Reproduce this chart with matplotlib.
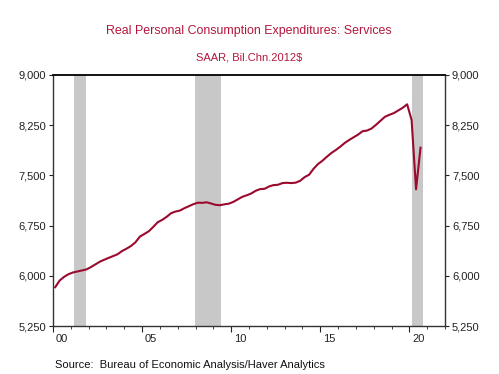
import matplotlib
matplotlib.use("Agg")
import matplotlib.pyplot as plt
import matplotlib.transforms as mtransforms
import numpy as np

# quarterly data, 2000Q1 .. 2020Q3 (bil. chained 2012$, SAAR)
start_year = 2000
values = [
    5830, 5930, 5985, 6025,   # 2000
    6050, 6065, 6080, 6095,   # 2001
    6130, 6170, 6210, 6240,   # 2002
    6268, 6295, 6322, 6370,   # 2003
    6405, 6445, 6500, 6585,   # 2004
    6625, 6665, 6730, 6800,   # 2005
    6835, 6880, 6935, 6960,   # 2006
    6975, 7010, 7040, 7070,   # 2007
    7092, 7090, 7098, 7080,   # 2008
    7060, 7055, 7068, 7078,   # 2009
    7105, 7143, 7180, 7203,   # 2010
    7230, 7270, 7295, 7300,   # 2011
    7335, 7355, 7360, 7385,   # 2012
    7390, 7385, 7392, 7420,   # 2013
    7475, 7510, 7600, 7670,   # 2014
    7720, 7780, 7835, 7880,   # 2015
    7930, 7985, 8030, 8070,   # 2016
    8110, 8160, 8170, 8200,   # 2017
    8255, 8315, 8375, 8405,   # 2018
    8430, 8470, 8510, 8562,   # 2019
    8328, 7292, 7914,         # 2020
]

# recessions (start, end) in decimal years
recessions = [(2001.2, 2001.87), (2007.95, 2009.45), (2020.12, 2020.75)]

yticks = [5250, 6000, 6750, 7500, 8250, 9000]
xticks = [2000, 2005, 2010, 2015, 2020]
xlabels = ["00", "05", "10", "15", "20"]

title = "Real Personal Consumption Expenditures: Services"
subtitle = "SAAR, Bil.Chn.2012$"
source = "Source:  Bureau of Economic Analysis/Haver Analytics"

plt.rcParams['font.family'] = ['Liberation Sans', 'DejaVu Sans']

line_color = '#9b0a2e'
title_color = '#b3163c'

# x positions at the middle of each quarter
t = start_year + np.arange(len(values)) * 0.25 + 0.125

fig = plt.figure(figsize=(4.99, 3.74), dpi=100)
ax = fig.add_axes([0.1062, 0.1283, 0.7856, 0.6712])

for a, b in recessions:
    ax.axvspan(a, b, color='#c8c8c8', lw=0, zorder=1)

ax.plot(t, values, color=line_color, lw=1.5, zorder=3)

ax.set_xlim(2000, 2022)
ax.set_ylim(5250, 9000)

ax.set_yticks(yticks)
ax.set_yticklabels([f"{v:,}" for v in yticks])
ax.tick_params(axis='y', which='both', direction='out', length=3, width=0.8,
               labelsize=8, left=True, right=True, labelleft=True,
               labelright=True, pad=2, colors='#222222')

ax.set_xticks(xticks)
ax.set_xticklabels(xlabels)
ax.set_xticks(np.arange(2000, 2023), minor=True)
ax.tick_params(axis='x', which='major', direction='out', length=4, width=0.8,
               labelsize=8, pad=2, colors='#222222')
ax.tick_params(axis='x', which='minor', direction='out', length=2, width=0.6,
               colors='#222222')
# labels sit just to the right of the tick
offset = mtransforms.ScaledTranslation(2 / 72, 0, fig.dpi_scale_trans)
for lbl in ax.get_xticklabels():
    lbl.set_horizontalalignment('left')
    lbl.set_transform(lbl.get_transform() + offset)

for side in ['left', 'right', 'bottom']:
    ax.spines[side].set_color('#333333')
    ax.spines[side].set_linewidth(1.0)
ax.spines['top'].set_color('black')
ax.spines['top'].set_linewidth(1.3)

fig.text(0.499, 1 - 31 / 374, title, ha='center', va='center',
         fontsize=8.9, color=title_color)
fig.text(0.499, 1 - 58 / 374, subtitle, ha='center', va='center',
         fontsize=8, color=title_color)
fig.text(55 / 499, 1 - 365 / 374, source, ha='left', va='center',
         fontsize=8, color='#111111')

fig.savefig("out.png", dpi=100)
